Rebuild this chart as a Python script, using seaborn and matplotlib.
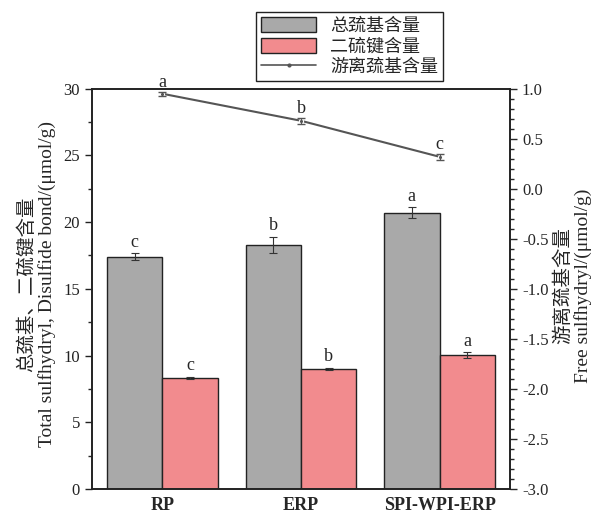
import numpy as np
import pandas as pd
import matplotlib
matplotlib.use('Agg')
import matplotlib.pyplot as plt
import seaborn as sns
from matplotlib.ticker import MultipleLocator
from matplotlib.lines import Line2D
from matplotlib.patches import Patch

sns.set_theme(style='ticks')
plt.rcParams['font.family'] = ['Liberation Serif', 'Noto Sans CJK SC']
plt.rcParams['axes.unicode_minus'] = False

# ========== 数据 ==========
samples = ['RP', 'ERP', 'SPI-WPI-ERP']
total_sh = [17.4, 18.3, 20.7]
total_sh_err = [0.25, 0.6, 0.4]
total_sh_sig = ['c', 'b', 'a']
ss_bond = [8.3, 9.0, 10.05]
ss_bond_err = [0.08, 0.1, 0.2]
ss_bond_sig = ['c', 'b', 'a']
free_sh = [0.95, 0.68, 0.32]
free_sh_err = [0.02, 0.03, 0.03]
free_sh_sig = ['a', 'b', 'c']

series_names = ['总巯基含量', '二硫键含量', '游离巯基含量']
bar_colors = ['#a9a9a9', '#f28b8e']
line_color = '#555555'

df = pd.DataFrame({
    'sample': samples * 2,
    'series': [series_names[0]] * 3 + [series_names[1]] * 3,
    'value': total_sh + ss_bond,
})

fig = plt.figure(figsize=(5.96, 5.19), dpi=100)
ax = fig.add_axes([0.154, 0.058, 0.702, 0.771])

sns.barplot(data=df, x='sample', y='value', hue='series', order=samples,
            hue_order=series_names[:2], palette=bar_colors, width=0.8,
            edgecolor='#222222', linewidth=1.0, saturation=1, ax=ax, legend=False)

# 误差线和显著性字母
errs = [total_sh_err, ss_bond_err]
vals = [total_sh, ss_bond]
sigs = [total_sh_sig, ss_bond_sig]
bar_conts = list(ax.containers)
for k, cont in enumerate(bar_conts):
    for i, bar in enumerate(cont):
        xc = bar.get_x() + bar.get_width() / 2
        ax.errorbar(xc, vals[k][i], yerr=errs[k][i], color='#333333',
                    capsize=3, elinewidth=0.8, capthick=0.8)
        ax.text(xc, vals[k][i] + errs[k][i] + 0.2, sigs[k][i], ha='center',
                va='bottom', fontsize=13)

ax.set_ylim(0, 30)
ax.set_xlim(-0.51, 2.51)
ax.yaxis.set_major_locator(MultipleLocator(5))
ax.yaxis.set_minor_locator(MultipleLocator(2.5))
ax.tick_params(axis='y', which='major', length=5, width=1, labelsize=12, colors='#222222')
ax.tick_params(axis='y', which='minor', length=3, width=1)
ax.tick_params(axis='x', length=0, labelsize=13, pad=6)
for lab in ax.get_xticklabels():
    lab.set_fontweight('bold')
ax.set_xlabel('')
ax.set_ylabel('')
for s in ax.spines.values():
    s.set_color('#222222')
    s.set_linewidth(1.2)

# 右轴：游离巯基
ax2 = ax.twinx()
sns.lineplot(x=np.arange(len(samples)), y=free_sh, color=line_color, marker='o',
             markersize=3, linewidth=1.5, ax=ax2)
ax2.errorbar(np.arange(len(samples)), free_sh, yerr=free_sh_err, fmt='none',
             ecolor=line_color, capsize=3, elinewidth=0.8)
for i, s in enumerate(free_sh_sig):
    ax2.text(i, free_sh[i] + free_sh_err[i] + 0.01, s, ha='center', va='bottom', fontsize=13)
ax2.set_ylim(-3.0, 1.0)
ax2.yaxis.set_major_locator(MultipleLocator(0.5))
ax2.yaxis.set_minor_locator(MultipleLocator(0.1))
ax2.tick_params(axis='y', which='major', length=5, width=1, labelsize=12)
ax2.tick_params(axis='y', which='minor', length=3, width=1)
ax2.yaxis.set_major_formatter(plt.FuncFormatter(lambda v, p: f'{v:.1f}'))
for s in ax2.spines.values():
    s.set_color('#222222')
    s.set_linewidth(1.2)

# 轴标题（两行）
fig.text(37 / 596, 1 - 284 / 519,
         '总巯基、二硫键含量\nTotal sulfhydryl, Disulfide bond/(μmol/g)',
         rotation=90, ha='center', va='center', fontsize=14, linespacing=1.15,
         multialignment='center')
fig.text(573 / 596, 1 - 286 / 519, '游离巯基含量\nFree sulfhydryl/(μmol/g)',
         rotation=90, ha='center', va='center', fontsize=14, linespacing=1.15,
         multialignment='center')

handles = [Patch(facecolor=bar_colors[0], edgecolor='#222222'),
           Patch(facecolor=bar_colors[1], edgecolor='#222222'),
           Line2D([0], [0], color=line_color, marker='o', markersize=2, linewidth=1.2)]
leg = fig.legend(handles, series_names, loc='upper left',
                 bbox_to_anchor=(256 / 596, 1 - 12 / 519), borderaxespad=0,
                 fancybox=False, edgecolor='#222222', fontsize=13,
                 handlelength=3.0, handleheight=0.9, borderpad=0.3,
                 labelspacing=0.15, framealpha=1)
leg.get_frame().set_linewidth(1.0)

fig.savefig('out.png', dpi=100)
